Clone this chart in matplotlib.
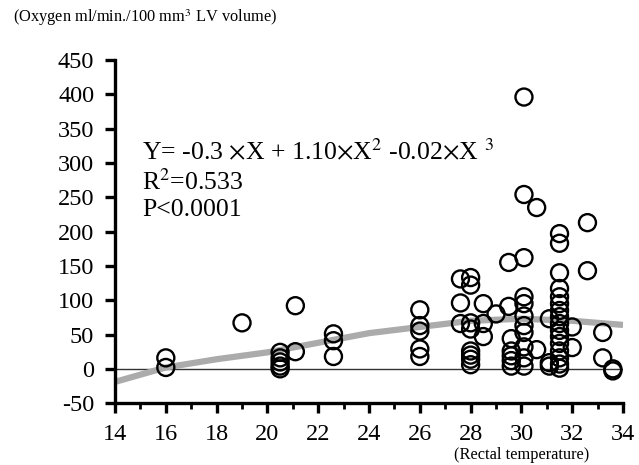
import matplotlib
matplotlib.use("Agg")
import matplotlib.pyplot as plt
from matplotlib.ticker import MultipleLocator

plt.rcParams['font.family'] = ['Liberation Serif', 'DejaVu Serif']
plt.rcParams['axes.unicode_minus'] = False

# scatter data (rectal temperature, oxygen consumption)
temp = [16, 16,
        19,
        20.5, 20.5, 20.5, 20.5, 20.5,
        21.1, 21.1,
        22.6, 22.6, 22.6,
        26, 26, 26, 26, 26,
        27.6, 27.6, 27.6,
        28, 28, 28, 28, 28, 28, 28, 28,
        28.5, 28.5, 28.5,
        29, 29.5, 29.5,
        29.6, 29.6, 29.6, 29.6, 29.6,
        30.1, 30.1, 30.1, 30.1, 30.1, 30.1, 30.1, 30.1, 30.1, 30.1, 30.1,
        30.6, 30.6,
        31.1, 31.1, 31.1,
        31.5, 31.5, 31.5, 31.5, 31.5, 31.5, 31.5, 31.5, 31.5, 31.5, 31.5, 31.5, 31.5, 31.5, 31.5, 31.5,
        32, 32,
        32.6, 32.6,
        33.2, 33.2,
        33.6, 33.6]
oxygen = [16, 2,
          67,
          24, 16, 10, 4, 0,
          92, 25,
          51, 41, 18,
          86, 63, 55, 29, 18,
          131, 96, 66,
          133, 122, 67, 58, 26, 20, 14, 6,
          95, 66, 47,
          80, 155, 91,
          44, 26, 19, 12, 4,
          396, 254, 162, 105, 95, 77, 63, 53, 32, 16, 4,
          235, 28,
          73, 9, 4,
          197, 183, 140, 117, 105, 95, 85, 76, 66, 56, 47, 37, 26, 16, 7, 1,
          61, 31,
          213, 143,
          53, 16,
          0, -3]

# fitted curve
fit_x = [14, 16, 18, 20, 22, 24, 26, 28, 30, 32, 34]
fit_y = [-19, 2, 14, 24, 38, 52, 61, 70, 73, 70, 64]

fig = plt.figure(figsize=(6.39, 4.65), dpi=100)
ax = fig.add_axes([0.18, 0.133, 0.795, 0.738])

ax.axhline(0, color='#333333', lw=1.0, zorder=1)
ax.plot(fit_x, fit_y, color='#ababab', lw=4.5, zorder=2, solid_capstyle='butt')
ax.scatter(temp, oxygen, s=150, facecolors='none', edgecolors='black',
           linewidths=1.7, zorder=3)

ax.set_xlim(14, 34)
ax.set_ylim(-50, 450)
ax.xaxis.set_major_locator(MultipleLocator(2))
ax.xaxis.set_minor_locator(MultipleLocator(1))
ax.yaxis.set_major_locator(MultipleLocator(50))

for s in ['top', 'right']:
    ax.spines[s].set_visible(False)
for s in ['left', 'bottom']:
    ax.spines[s].set_linewidth(2.4)

ax.tick_params(axis='both', which='major', direction='out', width=2.4, length=7,
               labelsize=17.5)
ax.tick_params(axis='x', which='major', pad=8)
ax.tick_params(axis='y', which='major', pad=8)
ax.tick_params(axis='x', which='minor', direction='out', width=2.0, length=4)

tx = 0.053
ax.text(tx, 0.732, r'Y= -0.3 $\times$X + 1.10$\times$X$^2$ -0.02$\times$X $^3$',
        transform=ax.transAxes, fontsize=18.5, va='center',
        math_fontfamily='stix')
ax.text(tx, 0.645, r'R$^2$=0.533', transform=ax.transAxes, fontsize=18.5,
        va='center', math_fontfamily='stix')
ax.text(tx, 0.562, 'P<0.0001', transform=ax.transAxes, fontsize=18.5, va='center')

fig.text(0.02, 0.963, r'(Oxygen ml/min./100 mm$^3$ LV volume)', fontsize=11.8,
         va='center', math_fontfamily='stix')
fig.text(0.817, 0.022, '(Rectal temperature)', fontsize=11.8, va='center', ha='center')

fig.savefig('out.png', dpi=100)
